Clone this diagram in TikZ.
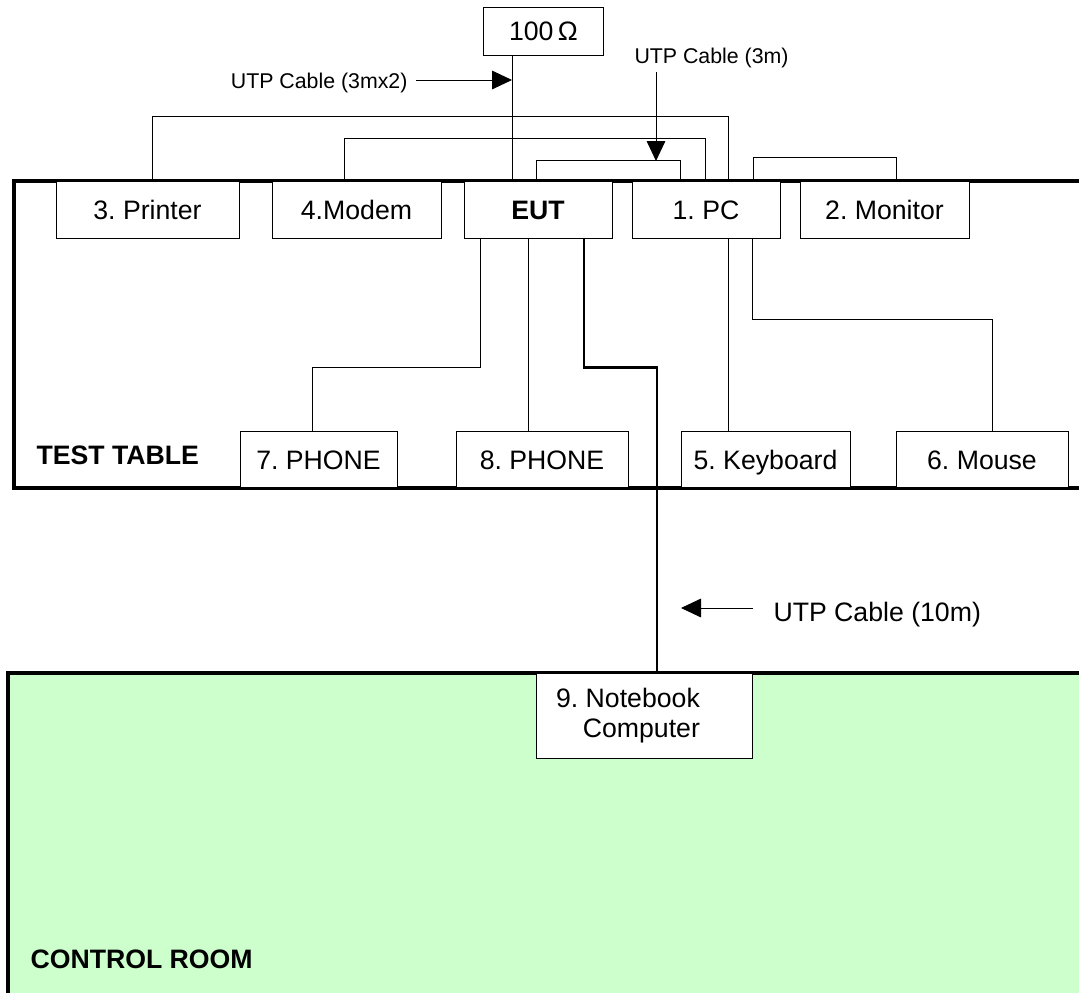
\documentclass[tikz,border=0pt]{standalone}
\usepackage{fontspec}
\setmainfont{Liberation Sans}
\usetikzlibrary{calc,arrows.meta}
\definecolor{roomgreen}{RGB}{204,255,204}
\frenchspacing

\tikzset{every picture/.style={line width=0.75pt}}
\tikzset{
  unitbox/.style={draw, fill=white, inner sep=0pt, minimum height=42.5pt, text height=14.3pt, text depth=0pt, font=\fontsize{20}{22.5}\selectfont},
  nbbox/.style={draw, fill=white, inner sep=0pt, font=\fontsize{20}{22.5}\selectfont},
  cablelbl/.style={inner sep=0pt, font=\fontsize{16}{19}\selectfont},
  arealbl/.style={inner sep=0pt, font=\fontsize{20}{24}\selectfont\bfseries},
  cablearrow/.style={-{Triangle[length=15pt,width=14pt]}},
  longcable/.style={line width=2pt}
}

\begin{document}
\begin{tikzpicture}[x=0.75pt,y=0.75pt,yscale=-1,xscale=1]
\clip (0,0) rectangle (1079,993);

%Shape: Rectangle [test table]
\draw [line width=3pt] (14,181) rectangle (1110,488) ;
%Shape: Rectangle [control room]
\draw [line width=3pt, fill=roomgreen] (8,673) rectangle (1110,1010) ;

% Units
\node [unitbox, minimum width=90pt, minimum height=36pt] (ohm) at (543.5,31) {100\,Ω};
\node [unitbox, minimum width=137.25pt] (prn) at (147.5,209.75) {3. Printer};
\node [unitbox, minimum width=126.75pt] (mdm) at (356.5,209.75) {4.Modem};
\node [unitbox, minimum width=111pt, font=\fontsize{20}{22.5}\selectfont\bfseries] (eut) at (538,209.75) {EUT};
\node [unitbox, minimum width=111pt] (pc) at (706,209.75) {1. PC};
\node [unitbox, minimum width=126.75pt] (mon) at (884.5,209.75) {2. Monitor};
\node [unitbox, minimum width=117.75pt] (ph7) at (318.5,459.5) {7. PHONE};
\node [unitbox, minimum width=129pt] (ph8) at (542,459.5) {8. PHONE};
\node [unitbox, minimum width=126.75pt] (kbd) at (765.5,459.5) {5. Keyboard};
\node [unitbox, minimum width=129pt] (mse) at (982,459.5) {6. Mouse};
\node [nbbox, minimum width=162pt, minimum height=63.75pt, align=right] (nb) at (644,715.5) {9. Notebook\hspace*{24pt}\\Computer\hspace*{24pt}};

%Straight Lines [above the table]
\draw ($(prn.north)+(4.5,0)$) -- ++(0,-64) -| ($(pc.north)+(22,0)$) ;
\draw ($(mdm.north)+(-12.5,0)$) -- ++(0,-42) -| ($(pc.north)+(-1,0)$) ;
\draw ($(eut.north)+(-2,0)$) -- ++(0,-20) -| ($(pc.north)+(-26,0)$) ;
\draw ($(ohm.south)+(-31.5,0)$) -- ($(eut.north)+(-26,0)$) ;
\draw ($(pc.north)+(47,0)$) -- ++(0,-23) -| ($(mon.north)+(11.5,0)$) ;
%Straight Lines [on the table]
\draw ($(eut.south)+(-58,0)$) -- ++(0,129) -| ($(ph7.north)+(-6.5,0)$) ;
\draw ($(eut.south)+(-10,0)$) -- ($(ph8.north)+(-14,0)$) ;
\draw ($(pc.south)+(22,0)$) -- ($(kbd.north)+(-37.5,0)$) ;
\draw ($(pc.south)+(46,0)$) -- ++(0,81) -| ($(mse.north)+(10,0)$) ;
%Straight Lines [to the control room]
\draw [longcable] ($(eut.south)+(46,0)$) -- ++(0,129) -| ($(nb.north)+(13,0)$) ;

% Text Node
\node [cablelbl, anchor=base east] (lbl2) at (408,88) {UTP Cable (3mx2)};
\coordinate (in2) at (512,80);
\draw [cablearrow] ($(lbl2.east |- in2)+(8,0)$) -- (in2) ;
% Text Node
\node [cablelbl, anchor=base west] (lbl3) at (634,63.5) {UTP Cable (3m)};
\coordinate (in3) at (656,161);
\draw [cablearrow] ($(lbl3.south -| in3)+(0,4)$) -- (in3) ;
% Text Node
\node [inner sep=0pt, font=\fontsize{20}{24}\selectfont, anchor=base west] (lbl10) at (773,621.5) {UTP Cable (10m)};
\coordinate (in10) at (681,608);
\draw [cablearrow] ($(in10 -| lbl10.west)+(-20,0)$) -- (in10) ;

% Text Node
\node [arealbl, anchor=base west] (tt) at (36,464.5) {TEST TABLE};
% Text Node
\node [arealbl, anchor=base west] (cr) at (30,968) {CONTROL ROOM};

\end{tikzpicture}
\end{document}
